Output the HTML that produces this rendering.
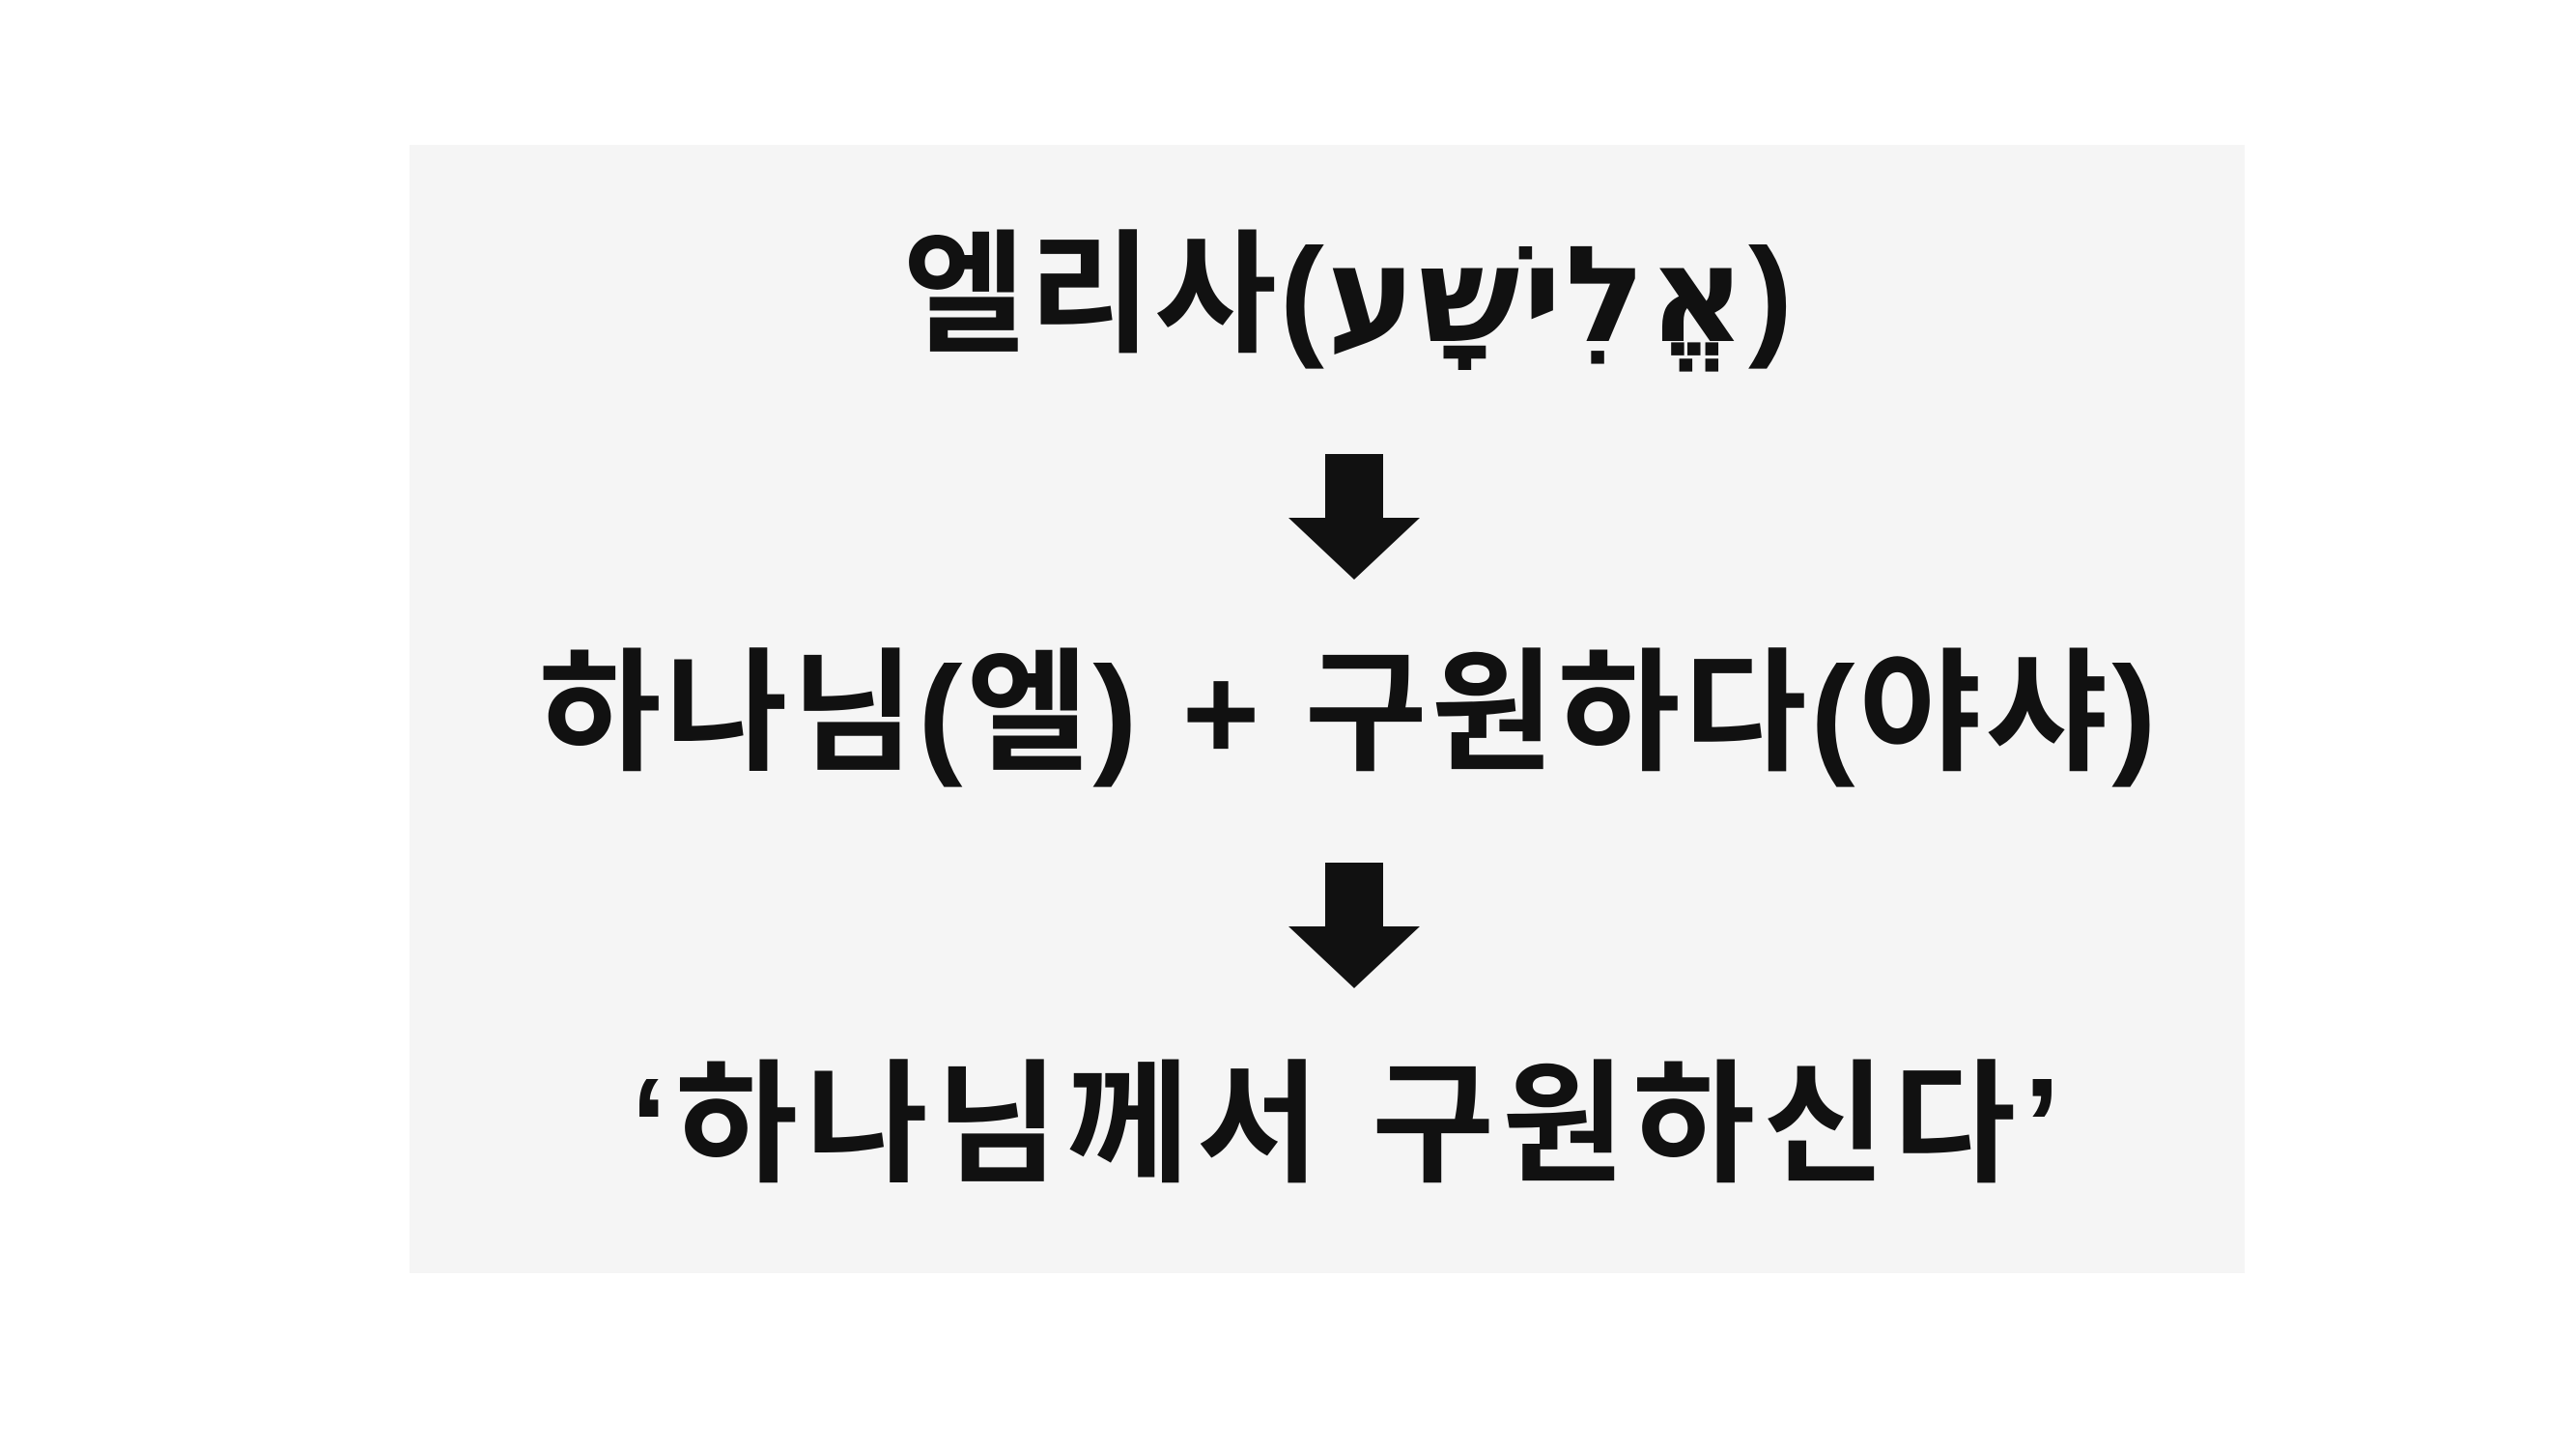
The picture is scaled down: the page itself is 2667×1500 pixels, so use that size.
<!DOCTYPE html>
<html><head><meta charset="utf-8"><style>
html,body{margin:0;padding:0;width:2667px;height:1500px;background:#fff;overflow:hidden}
.bg{position:absolute;left:424px;top:150px;width:1900px;height:1168px;background:#f5f5f5}
.t{position:absolute;left:0;width:2794px;text-align:center;font-family:"Liberation Sans","Noto Sans CJK KR",sans-serif;font-weight:700;font-size:138px;color:#111;line-height:1;white-space:nowrap}
</style></head><body>
<div class="bg"></div>
<div class="t" style="top:237px;letter-spacing:3px">엘리사(<span style="font-family:'DejaVu Sans',sans-serif">אֱלִישָׁע</span>)</div>
<svg style="position:absolute;left:1334px;top:470px" width="136" height="130"><polygon points="38,0 98,0 98,66 136,66 68,130 0,66 38,66" fill="#111"/></svg>
<div class="t" style="top:670px;letter-spacing:4px">하나님(엘) + 구원하다(야샤)</div>
<svg style="position:absolute;left:1334px;top:893px" width="136" height="130"><polygon points="38,0 98,0 98,66 136,66 68,130 0,66 38,66" fill="#111"/></svg>
<div class="t" style="top:1096px;letter-spacing:8px">‘하나님께서 구원하신다’</div>
</body></html>
